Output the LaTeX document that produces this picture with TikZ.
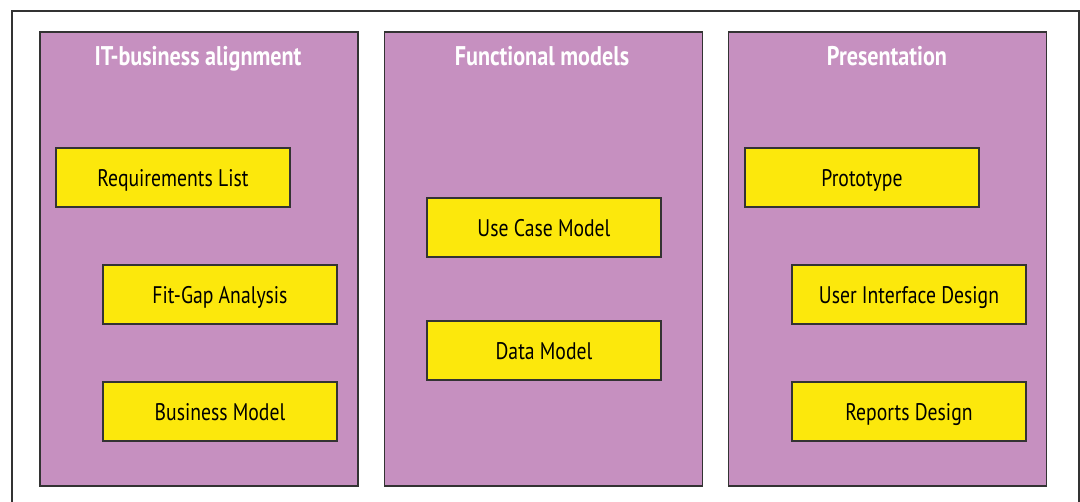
\documentclass[tikz,border=0pt]{standalone}
\usepackage{fontspec}
\setmainfont{PT Sans}[FakeStretch=0.82]
\definecolor{panelpurple}{HTML}{C690C0}
\definecolor{boxyellow}{HTML}{FCE80C}
\definecolor{edgegrey}{HTML}{333333}
\tikzset{
  panel/.style={draw=edgegrey, line width=1.2pt, fill=panelpurple, minimum width=318pt, minimum height=454pt, inner sep=0pt},
  paneltitle/.style={text=white, anchor=base, font=\fontsize{27}{30}\selectfont\bfseries},
  itembox/.style={draw=edgegrey, line width=1.2pt, fill=boxyellow, minimum width=234pt, minimum height=59pt, text height=21pt, text depth=2pt, font=\fontsize{24}{28}\selectfont}
}
\begin{document}
\begin{tikzpicture}[x=1pt, y=-1pt]
      \useasboundingbox (0,0) rectangle (1080,502);
      \draw[edgegrey, line width=1.2pt] (12,502) -- (12,11) -- (1079,11) -- (1079,502); % frame
      %
      \node[panel] (align) at (199,259) {};     % panels
      \node[panel] (func)  at (543.5,259) {};
      \node[panel] (pres)  at (887.5,259) {};
      %
      \node[paneltitle] (aligntitle) at (198,66) {IT-business alignment};
      \node[paneltitle] (functitle)  at (542,66) {Functional models};
      \node[paneltitle] (prestitle)  at (887,66) {Presentation};
      %
      \node[itembox] (reqlist) at (173,177.5) {Requirements List};   % first column
      \node[itembox] (fitgap)  at (220,294.5) {Fit-Gap Analysis};
      \node[itembox] (busmod)  at (220,411.5) {Business Model};
      %
      \node[itembox] (usecase) at (544,227.5) {Use Case Model};      % second column
      \node[itembox] (datamod) at (544,350.5) {Data Model};
      %
      \node[itembox] (proto)   at (862,177.5) {Prototype};           % third column
      \node[itembox] (uidesign) at (909,294.5) {User Interface Design};
      \node[itembox] (repdesign) at (909,411.5) {Reports Design};
      %
\end{tikzpicture}
\end{document}
